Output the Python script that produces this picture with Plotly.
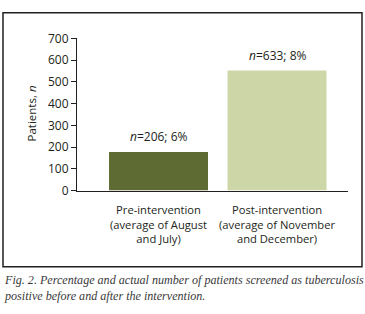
import plotly.graph_objects as go

categories = ["Pre-intervention<br>(average of August<br>and July)",
              "Post-intervention<br>(average of November<br>and December)"]
values = [178, 552]
bar_labels = ["<i>n</i>=206; 6%", "<i>n</i>=633; 8%"]
bar_colors = ["#5e6b32", "#ccd6a6"]
y_ticks = [0, 100, 200, 300, 400, 500, 600, 700]

W, H = 365, 314
def px(x): return x / W
def py(y): return (H - y) / H

txt = "#231f20"
font_family = "Open Sans"

fig = go.Figure()
fig.add_trace(go.Bar(x=categories, y=values, marker_color=bar_colors,
                     marker_line_width=0, width=0.835, showlegend=False,
                     hoverinfo="skip"))

for c, v, lab in zip(categories, values, bar_labels):
    fig.add_annotation(x=c, y=v, text=lab, showarrow=False, yanchor="bottom",
                       yshift=5, font=dict(family=font_family, size=12, color=txt))

fig.update_layout(
    width=W, height=H,
    margin=dict(l=0, r=0, t=0, b=0),
    paper_bgcolor="white", plot_bgcolor="white",
    font=dict(family=font_family, size=11, color=txt),
    xaxis=dict(domain=[px(77), px(348)], range=[-0.688, 1.599],
               showline=True, linecolor="#231f20", linewidth=1,
               ticks="", showgrid=False, zeroline=False,
               ticklabelstandoff=9,
               tickfont=dict(family=font_family, size=11.2, color=txt)),
    yaxis=dict(domain=[py(192), py(31)], range=[0, 700],
               tickvals=y_ticks, ticktext=[str(t) for t in y_ticks],
               showline=True, linecolor="#231f20", linewidth=1,
               ticks="outside", ticklen=5, tickcolor="#231f20",
               showgrid=False, zeroline=False,
               tickfont=dict(family=font_family, size=12, color=txt)),
)

# y-axis title
fig.add_annotation(xref="paper", yref="paper", x=px(22), y=py(111),
                   text="Patients, <i>n</i>", textangle=-90, showarrow=False,
                   font=dict(family=font_family, size=11.5, color=txt))

# frame
fig.add_shape(type="rect", xref="paper", yref="paper",
              x0=px(3), x1=px(362), y0=py(272.5), y1=py(4),
              line=dict(color="#231f20", width=1.5))

# caption
cap_font = dict(family="Liberation Serif", size=12.1, color="#3a3a3a")
fig.add_annotation(xref="paper", yref="paper", x=px(2), y=py(286),
                   xanchor="left", yanchor="middle", showarrow=False,
                   text="<i>Fig. 2. Percentage and actual number of patients screened as tuberculosis</i>",
                   font=cap_font)
fig.add_annotation(xref="paper", yref="paper", x=px(2), y=py(303),
                   xanchor="left", yanchor="middle", showarrow=False,
                   text="<i>positive before and after the intervention.</i>",
                   font=cap_font)

fig.write_html("out.html", config={"displayModeBar": False, "staticPlot": True},
               post_script="document.body.style.margin='0';document.body.style.overflow='hidden';")
